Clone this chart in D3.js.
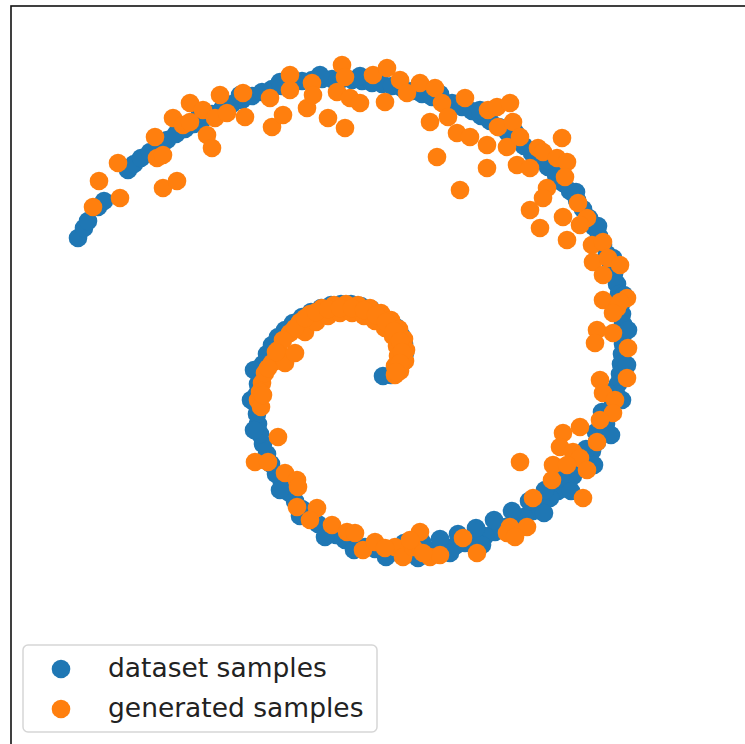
<!DOCTYPE html>
<html>
<head>
<meta charset="utf-8">
<script src="https://cdn.jsdelivr.net/npm/d3@7"></script>
<style>
  body { margin: 0; background: #fff; }
  svg { display: block; }
</style>
</head>
<body>
<div id="container"></div>
<script>
// dataset samples (spiral)
var datasetX = [-30.8,-30.2,-29.8,-28.8,-28.2,-25.8,-25.2,-24.5,-23.6,-22.8,-21.9,-21.0,-20.1,-19.2,-18.3,-17.4,-16.4,-15.4,-14.4,-13.4,-12.4,-11.4,-10.4,-9.4,-8.4,-7.4,-6.4,-5.4,-4.4,-3.4,-2.4,-1.4,-0.4,0.6,1.6,2.6,3.6,4.6,5.6,6.6,7.6,8.6,9.5,10.4,11.3,12.2,13.0,13.8,14.6,15.4,16.2,17.0,17.7,18.4,19.1,19.7,20.3,20.8,21.3,21.7,22.1,22.5,22.8,23.1,23.3,23.5,23.6,23.7,23.7,23.7,23.6,23.5,23.4,23.2,23.0,22.7,22.4,22.0,21.6,21.1,20.6,20.0,19.4,18.7,18.0,17.2,16.4,15.6,14.7,13.8,12.9,11.9,10.9,9.9,8.9,7.9,6.9,5.9,4.9,3.9,2.9,1.9,0.9,-0.1,-1.1,-2.1,-3.1,-4.1,-5.0,-5.9,-6.8,-7.6,-8.4,-9.1,-9.8,-10.4,-11.0,-11.5,-11.9,-12.3,-12.6,-12.8,-12.9,-13.0,-12.9,-12.8,-12.6,-12.3,-11.9,-11.4,-10.8,-10.1,-9.3,-8.4,-7.5,-6.5,-5.5,-4.5,-3.5,-2.5,-1.5,-0.6,0.3,1.0,1.5,1.8,1.9,1.7,1.2,0.5,-0.3,
  22.1,21.6,21.0,20.0,18.8,17.4,15.9,14.3,12.6,10.8,9.0,7.2,5.4,3.6,1.8,
  -18.6,-14.6,-10.6,-6.6,-2.6,1.4,5.4,9.4,12.9,16.2,19.0,21.2,22.7,23.8,24.2,24.1,23.6,22.5,20.8,18.5,15.8,12.8,9.6,6.4,3.2,0.0,-3.2,-6.1,-8.6,-10.6,-12.1,-13.2,-13.5,-13.2];
var datasetY = [13.6,14.6,15.3,16.7,17.3,20.4,21.0,21.6,22.2,22.8,23.4,24.0,24.5,25.0,25.5,26.0,26.5,27.0,27.4,27.8,28.2,28.5,28.8,29.1,29.3,29.4,29.5,29.5,29.5,29.4,29.3,29.1,29.0,28.8,28.6,28.3,28.0,27.7,27.4,27.1,26.7,26.3,25.8,25.3,24.7,24.1,23.5,22.8,22.1,21.4,20.7,19.9,19.1,18.3,17.4,16.5,15.6,14.7,13.8,12.9,12.0,11.0,10.0,9.0,8.0,7.0,6.0,5.0,4.0,3.0,2.0,1.0,0.0,-1.0,-2.0,-3.0,-4.0,-5.0,-5.9,-6.8,-7.7,-8.6,-9.4,-10.2,-11.0,-11.7,-12.4,-13.1,-13.7,-14.3,-14.8,-15.3,-15.8,-16.2,-16.6,-16.9,-17.2,-17.4,-17.6,-17.7,-17.8,-17.8,-17.8,-17.7,-17.5,-17.3,-17.0,-16.6,-16.1,-15.6,-15.0,-14.3,-13.5,-12.7,-11.8,-10.9,-10.0,-9.0,-8.0,-7.0,-6.0,-5.0,-4.0,-3.0,-2.0,-1.0,0.0,1.0,2.0,2.9,3.7,4.4,5.1,5.7,6.2,6.6,6.9,7.0,7.0,6.8,6.5,6.0,5.4,4.7,3.9,3.0,2.1,1.2,0.4,-0.1,-0.2,
  -1.8,-3.8,-5.8,-7.5,-9.0,-10.4,-11.6,-12.7,-13.7,-14.6,-15.4,-16.0,-16.5,-16.8,-16.9,
  26.0,27.9,29.2,29.9,29.8,29.2,28.0,26.4,24.2,21.4,18.2,14.8,11.6,7.9,4.4,0.9,-2.6,-6.1,-9.1,-11.7,-13.9,-15.6,-17.1,-17.9,-18.4,-18.3,-17.6,-16.3,-14.2,-11.6,-8.6,-5.6,-2.6,0.4];

// generated samples
var generatedX = [-29.3,-28.7,-26.6,-26.8,-22.9,-22.3,-23.1,-22.3,-20.9,-21.3,-20.3,-19.6,-19.6,-18.3,-17.9,-17.4,-17.1,-16.6,-15.9,-14.3,-14.1,-11.6,-11.4,-10.3,-9.6,-9.6,-7.9,-7.4,-7.3,-5.8,-4.9,-4.4,-4.1,-4.1,-3.6,-2.6,-1.3,-0.1,0.1,
  1.4,2.1,3.4,4.9,4.4,5.6,6.2,7.1,7.9,8.4,10.1,10.1,5.1,7.4,10.2,11.1,12.4,11.2,12.7,12.1,13.4,13.1,14.4,15.2,15.7,17.6,17.1,18.1,17.9,16.1,15.7,14.4,15.4,17.7,19.2,20.1,19.4,18.1,20.6,21.7,20.7,22.2,23.4,21.7,21.7,24.1,23.1,
  23.4,22.7,21.1,22.7,20.9,24.2,21.4,24.1,21.7,22.9,22.7,21.4,19.4,17.7,21.1,17.4,18.7,19.4,13.4,16.7,18.1,20.1,16.6,19.7,14.7,14.1,12.4,12.1,12.9,7.7,9.1,3.4,0.9,1.7,2.7,4.4,5.4,3.7,2.4,
  -12.8,-10.8,-13.1,-11.8,-10.1,-8.9,-8.8,-8.9,-6.9,-7.6,-5.4,-3.9,-3.1,-2.3,-1.1,-0.1,
  -12.4,-12.6,-12.5,-12.1,-11.4,-10.1,-10.8,-9.1,-9.6,-8.6,-8.1,-7.6,-7.0,-6.4,-5.8,-5.2,-4.6,-4.0,-3.4,-2.8,-2.2,-1.6,-1.1,-0.5,-0.1,0.5,0.7,1.3,1.1,1.8,1.2,2.0,0.9,1.9,1.4,0.9,
  -9.1,-8.1,-7.0,-5.8,-4.6,-3.4,-2.2,-1.0,0.0,0.8,1.4,1.6,1.4,1.0,-10.3,-11.0,-11.8,-12.3];
var generatedY = [16.7,19.3,17.6,21.1,21.6,21.9,23.7,18.6,19.3,25.6,24.9,27.1,25.2,26.4,23.9,22.6,25.6,27.9,26.1,28.1,25.7,27.6,24.7,25.9,29.9,28.4,26.6,29.1,27.9,25.6,28.2,30.9,29.7,24.6,27.6,27.1,29.9,27.2,30.6,
  29.4,28.1,29.1,28.6,25.2,27.1,25.7,24.1,27.6,23.7,22.9,20.6,21.7,18.4,26.4,26.7,27.1,24.7,25.2,22.7,23.7,20.9,20.6,22.6,22.2,23.6,21.6,21.2,19.7,18.6,17.6,16.4,14.6,15.7,17.1,15.6,14.9,13.4,12.9,13.2,11.2,11.6,10.9,9.9,7.4,7.6,6.6,
  7.2,6.1,4.4,4.1,3.1,2.6,-0.6,-0.4,-1.9,-2.6,-3.9,-4.6,-5.3,-5.9,-6.8,-7.3,-7.8,-8.4,-8.8,-9.1,-9.1,-9.6,-10.6,-12.4,-12.4,-15.3,-15.3,-15.9,-16.3,-16.4,-17.9,-15.8,-17.3,-18.3,-17.3,-18.3,-18.1,-17.9,-16.6,
  -2.6,-6.3,-8.8,-8.8,-9.9,-10.6,-11.3,-13.3,-13.4,-14.6,-15.1,-15.8,-15.9,-17.6,-16.8,-17.4,
  -0.9,-1.8,-3.3,0.1,1.1,1.1,2.4,2.1,4.1,5.2,4.2,6.0,5.2,6.6,5.8,6.9,6.1,7.0,6.1,6.9,5.8,6.6,5.3,6.1,4.6,5.4,3.8,4.5,2.8,3.5,1.8,2.4,0.8,1.3,0.3,-0.1,
  4.6,5.6,6.2,6.5,6.6,6.6,6.4,5.9,5.2,4.3,3.3,2.2,1.1,0.2,3.4,2.2,0.6,-2.1];

var seriesNames = ["dataset samples", "generated samples"];
var seriesColors = ["#1f77b4", "#ff7f0e"];

var width = 745;
var height = 744;

var svg = d3.select("#container")
    .append("svg")
    .attr("width", width)
    .attr("height", height);

svg.append("rect")
    .attr("width", width)
    .attr("height", height)
    .attr("fill", "#fff");

var xScale = d3.scaleLinear().domain([-37.5, 37.5]).range([11, 761]);
var yScale = d3.scaleLinear().domain([-37.1, 36.8]).range([745, 6]);

var series = [
    { name: seriesNames[0], x: datasetX, y: datasetY, color: seriesColors[0] },
    { name: seriesNames[1], x: generatedX, y: generatedY, color: seriesColors[1] }
];

series.forEach(function (s) {
    var pts = s.x.map(function (v, i) { return [v, s.y[i]]; });
    svg.append("g")
        .selectAll("circle")
        .data(pts)
        .enter()
        .append("circle")
        .attr("cx", function (d) { return xScale(d[0]); })
        .attr("cy", function (d) { return yScale(d[1]); })
        .attr("r", 9.3)
        .attr("fill", s.color);
});

// frame (no ticks)
svg.append("rect")
    .attr("x", xScale(-37.5))
    .attr("y", yScale(36.8))
    .attr("width", xScale(37.5) - xScale(-37.5))
    .attr("height", yScale(-37.1) - yScale(36.8))
    .attr("fill", "none")
    .attr("stroke", "#111")
    .attr("stroke-width", 1.6);

// legend
var legend = svg.append("g").attr("transform", "translate(23,645)");

legend.append("rect")
    .attr("width", 354)
    .attr("height", 87)
    .attr("rx", 5)
    .attr("fill", "#fff")
    .attr("fill-opacity", 0.8)
    .attr("stroke", "#d6d6d6")
    .attr("stroke-width", 1.5);

var item = legend.selectAll(".item")
    .data(seriesNames)
    .enter()
    .append("g")
    .attr("transform", function (d, i) { return "translate(0," + (24 + i * 40) + ")"; });

item.append("circle")
    .attr("cx", 38)
    .attr("cy", 0)
    .attr("r", 9.3)
    .attr("fill", function (d, i) { return seriesColors[i]; });

item.append("text")
    .attr("x", 85)
    .attr("y", 8)
    .attr("font-family", "DejaVu Sans")
    .attr("font-size", "26.5px")
    .attr("fill", "#222")
    .text(function (d) { return d; });
</script>
</body>
</html>
